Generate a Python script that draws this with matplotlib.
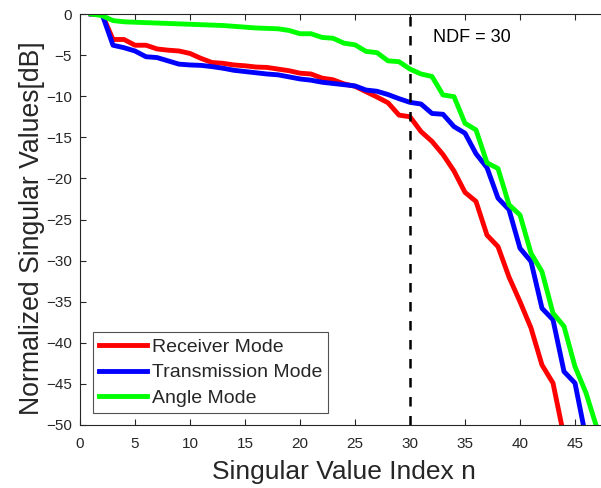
import matplotlib
matplotlib.use("Agg")
import matplotlib.pyplot as plt

# Normalized singular values (dB) versus singular value index
index_receiver = list(range(1, 45))
receiver_db = [
    0, 0, -3.1, -3.1, -3.8, -3.8, -4.25, -4.4, -4.5, -4.8,
    -5.4, -5.9, -6.0, -6.2, -6.3, -6.45, -6.5, -6.7, -6.9, -7.2,
    -7.3, -7.8, -8.0, -8.5, -8.8, -9.45, -10.1, -10.8, -12.3, -12.5,
    -14.3, -15.5, -17.1, -19.1, -21.7, -22.8, -26.9, -28.3, -32.0, -35.0,
    -38.2, -42.7, -44.9, -51.4,
]

index_transmission = list(range(1, 47))
transmission_db = [
    0, 0, -3.8, -4.1, -4.5, -5.2, -5.3, -5.7, -6.1, -6.2,
    -6.25, -6.4, -6.6, -6.85, -7.0, -7.15, -7.3, -7.4, -7.65, -7.9,
    -8.05, -8.3, -8.45, -8.6, -8.75, -9.25, -9.4, -9.8, -10.3, -10.75,
    -10.95, -12.1, -12.2, -13.7, -14.5, -17.0, -18.7, -22.4, -23.8, -28.5,
    -30.1, -35.8, -37.2, -43.5, -44.9, -51.6,
]

index_angle = list(range(1, 48))
angle_db = [
    0, -0.2, -0.8, -0.95, -1.0, -1.05, -1.1, -1.15, -1.2, -1.25,
    -1.3, -1.35, -1.4, -1.5, -1.6, -1.7, -1.75, -1.8, -2.0, -2.4,
    -2.4, -2.85, -2.95, -3.55, -3.75, -4.55, -4.7, -5.7, -5.8, -6.7,
    -7.3, -7.6, -9.85, -10.05, -13.3, -14.1, -18.1, -18.8, -23.2, -24.45,
    -29.1, -31.35, -36.4, -38.0, -42.9, -46.1, -50.4,
]

ndf = 30

plt.rcParams.update({
    "font.family": ["Liberation Sans", "DejaVu Sans"],
    "text.color": "#262626",
    "axes.labelcolor": "#262626",
    "xtick.color": "#262626",
    "ytick.color": "#262626",
})

fig = plt.figure(figsize=(6.01, 4.88), dpi=100)
# the box runs out to x = 50, past the right edge of the canvas
ax = fig.add_axes([80 / 601, 63 / 488, 550 / 601, 411 / 488])

ax.plot(index_receiver, receiver_db, color="#ff0000", lw=3.5, label="Receiver Mode")
ax.plot(index_transmission, transmission_db, color="#0000ff", lw=3.5, label="Transmission Mode")
ax.plot(index_angle, angle_db, color="#00ff00", lw=3.5, label="Angle Mode")
ax.plot([ndf, ndf], [-50, 0], color="black", lw=1.8, dashes=(3.8, 3.8))
ax.text(32.1, -2.9, f"NDF = {ndf}", fontsize=13, color="black", va="center", ha="left")

ax.set_xlim(0, 50)
ax.set_ylim(-50, 0)
ax.set_xticks(range(0, 46, 5))
ax.set_yticks(range(-50, 1, 5))
ax.tick_params(direction="in", length=4, width=0.8, top=True, right=True,
               labelsize=11)
ax.tick_params(axis="x", pad=8.5)
ax.tick_params(axis="y", pad=6)
for spine in ax.spines.values():
    spine.set_linewidth(0.8)
    spine.set_color("#262626")

ax.set_xlabel("Singular Value Index n", fontsize=19)
ax.set_ylabel("Normalized Singular Values[dB]", fontsize=19.2)
ax.xaxis.set_label_coords(0.48, -0.086)
ax.yaxis.set_label_coords(-0.087, 0.479)
ax.xaxis.label.set_va("top")
ax.yaxis.label.set_va("center")

leg = ax.legend(loc="lower left", bbox_to_anchor=(0.0236, 0.029), borderaxespad=0,
                fontsize=14, frameon=True, fancybox=False, handlelength=2.5,
                handletextpad=0.22, labelspacing=0.42, borderpad=0.3)
leg.get_frame().set_edgecolor("#262626")
leg.get_frame().set_linewidth(0.8)

fig.savefig("out.png", dpi=100)
